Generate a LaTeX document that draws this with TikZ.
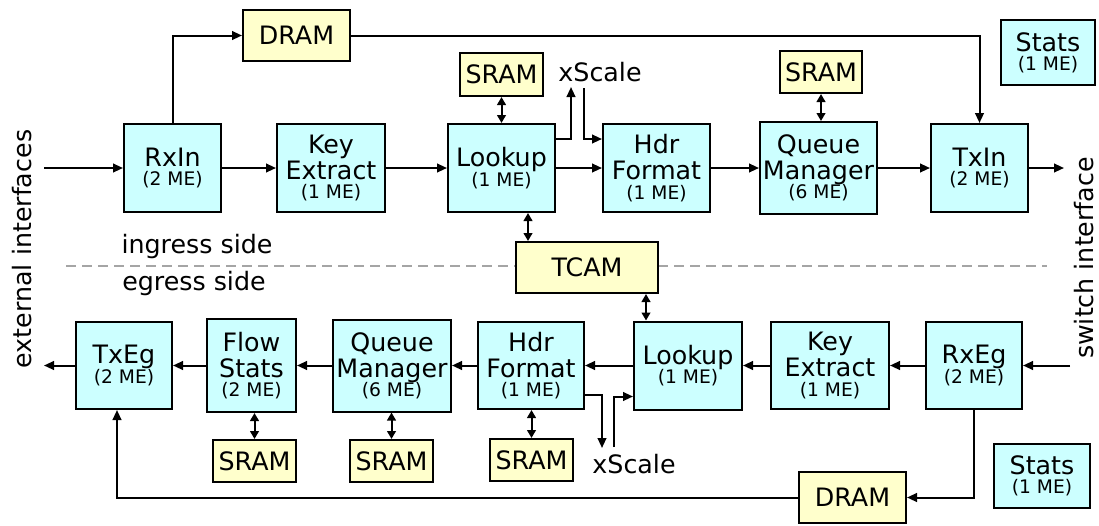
\documentclass[tikz,border=0pt]{standalone}
\usepackage{fontspec}
\setmainfont{DejaVu Sans}
\usetikzlibrary{arrows.meta,calc}
\definecolor{boxcyan}{RGB}{204,255,255}
\definecolor{boxyellow}{RGB}{255,255,204}
\definecolor{dashgray}{RGB}{165,165,165}
\newcommand\mesub[1]{{\fontsize{14}{14}\selectfont #1}}
\begin{document}
\begin{tikzpicture}[x=0.75pt,y=-0.75pt,
  every node/.style={font=\fontsize{19}{19.5}\selectfont},
  cbox/.style={draw, line width=1.5pt, fill=boxcyan, align=center, inner sep=0pt},
  ybox/.style={draw, line width=1.5pt, fill=boxyellow, align=center, inner sep=0pt},
  sz/.style 2 args={minimum width=#1*0.75pt-1.5pt, minimum height=#2*0.75pt-1.5pt},
  arr/.style={line width=1.5pt, -{Triangle[length=7.5pt,width=6.5pt]}},
  dbl/.style={line width=1.5pt, {Triangle[length=6pt,width=6.5pt]}-{Triangle[length=6pt,width=6.5pt]}},
  sep/.style={line width=1.5pt, dashgray, dash pattern=on 7.5pt off 4.5pt},
  lbl/.style={inner sep=0pt}]
\useasboundingbox (0,0) rectangle (1099,525);

% separator
\coordinate (dashL) at (66,266);
\coordinate (dashR) at (1047,266);
\draw[sep] (dashL) -- (dashR);

% ingress row
\node[ybox, sz={109}{53}] (dramT) at (296.5,35.5) {DRAM};
\node[cbox, sz={99}{90}] (rxin) at (172.5,168) {RxIn\\[-5pt]\mesub{(2 ME)}};
\node[cbox, sz={110}{90}] (keyT) at (331,168) {Key\\Extract\\[-5pt]\mesub{(1 ME)}};
\node[cbox, sz={109}{90}] (lookT) at (501.5,168) {Lookup\\[-5pt]\mesub{(1 ME)}};
\node[ybox, sz={85}{45}] (sramL) at (501.5,74.5) {SRAM};
\node[cbox, sz={109}{90}] (hdrT) at (656.5,168) {Hdr\\Format\\[-5pt]\mesub{(1 ME)}};
\node[cbox, sz={119}{94}] (qmT) at (818.5,168) {Queue\\Manager\\[-5pt]\mesub{(6 ME)}};
\node[ybox, sz={84}{44}] (sramQ) at (821,72) {SRAM};
\node[cbox, sz={99}{90}] (txin) at (979.5,168) {TxIn\\[-5pt]\mesub{(2 ME)}};
\node[cbox, sz={96}{67}] (statsT) at (1048,52.5) {Stats\\[-5pt]\mesub{(1 ME)}};
\node[ybox, sz={144}{53}] (tcam) at (587,267.5) {TCAM};

% egress row
\node[cbox, sz={98}{89}] (txeg) at (124,365.5) {TxEg\\[-5pt]\mesub{(2 ME)}};
\node[cbox, sz={91}{95}] (fs) at (251.5,365.5) {Flow\\Stats\\[-5pt]\mesub{(2 ME)}};
\node[cbox, sz={120}{94}] (qmB) at (392,365.5) {Queue\\Manager\\[-5pt]\mesub{(6 ME)}};
\node[cbox, sz={108}{89}] (hdrB) at (531,365.5) {Hdr\\Format\\[-5pt]\mesub{(1 ME)}};
\node[cbox, sz={110}{90}] (lookB) at (688,365.5) {Lookup\\[-5pt]\mesub{(1 ME)}};
\node[cbox, sz={120}{89}] (keyB) at (830,365.5) {Key\\Extract\\[-5pt]\mesub{(1 ME)}};
\node[cbox, sz={98}{89}] (rxeg) at (974,365.5) {RxEg\\[-5pt]\mesub{(2 ME)}};
\node[cbox, sz={98}{66}] (statsB) at (1042,476) {Stats\\[-5pt]\mesub{(1 ME)}};
\node[ybox, sz={109}{53}] (dramB) at (852.5,497.5) {DRAM};
\node[ybox, sz={85}{44}] (sramFS) at (254.5,461) {SRAM};
\node[ybox, sz={85}{44}] (sramQB) at (391.5,461) {SRAM};
\node[ybox, sz={85}{44}] (sramHB) at (531.5,460) {SRAM};

% labels
\node[lbl] (xsTop) at (600,72) {xScale};
\node[lbl] (xsBot) at (634,464) {xScale};
\node[lbl] (ing) at (197,247) {ingress side};
\node[lbl] (egr) at (194,284) {egress side};
\node[lbl, rotate=90] (ext) at (22,249) {external interfaces};
\node[lbl, rotate=90] (sw) at (1084,258) {switch interface};

% free ends
\coordinate (inTop) at (44,168);
\coordinate (outTop) at (1064,168);
\coordinate (inBot) at (1070,365.5);
\coordinate (outBot) at (44,365.5);
\coordinate (xsA) at (571,87);
\coordinate (xsB) at (584,88);
\coordinate (xsC) at (602,448);
\coordinate (xsD) at (614,447);

% ingress connectors
\draw[arr] (inTop) -- (rxin.west);
\draw[arr] (rxin) -- (keyT);
\draw[arr] (keyT) -- (lookT);
\draw[arr] (lookT) -- (hdrT);
\draw[arr] (hdrT) -- (qmT);
\draw[arr] (qmT) -- (txin);
\draw[arr] (txin.east) -- (outTop);
\draw[arr] (rxin.north) |- (dramT.west);
\draw[arr] (dramT.east) -| (txin.north);
\draw[dbl] (sramL) -- (lookT);
\draw[dbl] (sramQ.south) -- (sramQ.south |- qmT.north);
\coordinate (tA) at ($(lookT.south)+(26.5,0)$);
\draw[dbl] (tA) -- (tA |- tcam.north);
\coordinate (tB) at ($(tcam.south)+(59,0)$);
\draw[dbl] (tB) -- (tB |- lookB.north);
\coordinate (lkx) at ($(lookT.east)+(0,-29)$);
\draw[arr] (lkx) -| (xsA);
\coordinate (hdx) at ($(hdrT.west)+(0,-29)$);
\draw[arr] (xsB) |- (hdx);

% egress connectors
\draw[arr] (inBot) -- (rxeg.east);
\draw[arr] (rxeg) -- (keyB);
\draw[arr] (keyB) -- (lookB);
\draw[arr] (lookB) -- (hdrB);
\draw[arr] (hdrB) -- (qmB);
\draw[arr] (qmB) -- (fs);
\draw[arr] (fs) -- (txeg);
\draw[arr] (txeg.west) -- (outBot);
\coordinate (hbx) at ($(hdrB.east)+(0,29.5)$);
\draw[arr] (hbx) -| (xsC);
\coordinate (lbx) at ($(lookB.west)+(0,31)$);
\draw[arr] (xsD) |- (lbx);
\draw[dbl] (sramFS.north) -- (sramFS.north |- fs.south);
\draw[dbl] (sramQB.north) -- (sramQB.north |- qmB.south);
\draw[dbl] (sramHB.north) -- (sramHB.north |- hdrB.south);
\draw[arr] (rxeg.south) |- (dramB.east);
\coordinate (txb) at ($(txeg.south)+(-7,0)$);
\draw[arr] (dramB.west) -| (txb);
\end{tikzpicture}
\end{document}
